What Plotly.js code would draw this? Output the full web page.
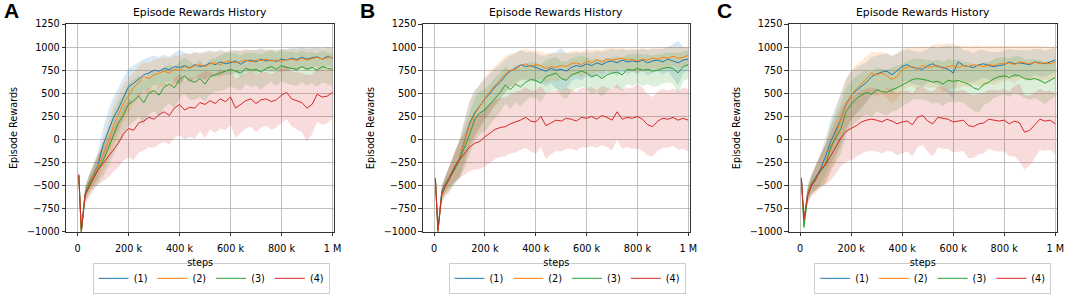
<!DOCTYPE html>
<html>
<head>
<meta charset="utf-8">
<script src="https://cdn.plot.ly/plotly-3.0.1.min.js"></script>
<style>
  body { margin: 0; background: #fff; }
  #myDiv { width: 1072px; height: 295px; }
</style>
</head>
<body>
<div id="myDiv"></div>
<script>
var steps = [5000, 15000, 30000, 45000, 60000, 80000, 100000, 120000, 140000, 160000, 180000, 200000, 220000,
  240000, 260000, 280000, 300000, 320000, 340000, 360000, 380000, 400000, 420000, 440000, 460000, 480000,
  500000, 520000, 540000, 560000, 580000, 600000, 620000, 640000, 660000, 680000, 700000, 720000, 740000,
  760000, 780000, 800000, 820000, 840000, 860000, 880000, 900000, 920000, 940000, 960000, 980000, 1000000];

var names = ['(1)', '(2)', '(3)', '(4)'];
var tickVals = [0, 200000, 400000, 600000, 800000, 1000000];
var tickText = ['0', '200 k', '400 k', '600 k', '800 k', '1 M'];
var yTickVals = [-1000, -750, -500, -250, 0, 250, 500, 750, 1000, 1250];
var yTickText = ['\u22121000', '\u2212750', '\u2212500', '\u2212250', '0', '250', '500', '750', '1000', '1250'];

// panel A
var meanA1 = [-380, -990, -580, -470, -390, -280, -60, 90, 230, 330, 450, 570, 610,
  660, 700, 720, 750, 740, 770, 755, 790, 780, 800, 775, 810, 790,
  800, 830, 810, 840, 820, 830, 850, 815, 850, 860, 840, 870, 850,
  860, 845, 870, 860, 880, 865, 890, 870, 885, 895, 870, 900, 880];
var meanA2 = [-400, -1000, -590, -480, -400, -300, -170, -30, 140, 270, 390, 470, 560,
  620, 680, 660, 700, 720, 740, 720, 760, 750, 790, 770, 800, 810,
  790, 820, 830, 810, 840, 850, 830, 845, 860, 840, 860, 855, 870,
  850, 860, 845, 865, 870, 855, 880, 860, 875, 890, 870, 885, 895];
var meanA3 = [-390, -1000, -600, -490, -420, -330, -230, -100, 50, 180, 260, 380, 420,
  470, 400, 500, 530, 480, 570, 600, 560, 650, 690, 640, 620, 660,
  600, 680, 700, 720, 740, 760, 740, 720, 770, 750, 760, 730, 770,
  790, 760, 800, 780, 770, 760, 790, 760, 780, 750, 790, 770, 760];
var meanA4 = [-380, -980, -600, -520, -430, -330, -260, -190, -110, -40, 60, 120, 100,
  180, 200, 240, 220, 270, 300, 260, 340, 380, 320, 350, 340, 400,
  380, 420, 390, 440, 410, 460, 340, 380, 420, 440, 390, 430, 440,
  410, 430, 480, 510, 440, 420, 400, 340, 380, 490, 460, 470, 510];
var sdA1 = [60, 30, 70, 90, 110, 140, 180, 210, 220, 220, 210, 200, 190,
  180, 170, 170, 160, 150, 150, 140, 150, 190, 140, 150, 140, 130,
  150, 140, 130, 140, 120, 130, 120, 140, 120, 110, 130, 120, 110,
  120, 120, 110, 120, 110, 130, 110, 120, 110, 100, 120, 100, 110];
var sdA2 = [60, 30, 70, 90, 110, 140, 180, 200, 210, 210, 200, 190, 170,
  170, 160, 170, 160, 160, 150, 160, 150, 150, 140, 150, 140, 140,
  150, 130, 130, 140, 120, 120, 130, 120, 120, 130, 110, 120, 110,
  120, 110, 120, 110, 110, 120, 110, 120, 110, 110, 110, 110, 100];
var sdA3 = [60, 30, 80, 100, 120, 150, 170, 200, 220, 230, 230, 230, 230,
  220, 240, 230, 220, 230, 220, 210, 220, 200, 190, 210, 190, 200,
  190, 190, 180, 190, 200, 180, 190, 190, 170, 180, 180, 190, 180,
  170, 180, 170, 170, 180, 180, 170, 180, 170, 180, 170, 170, 180];
var sdA4 = [60, 30, 80, 110, 130, 160, 190, 220, 240, 260, 290, 310, 320,
  320, 320, 320, 310, 320, 320, 310, 320, 330, 320, 320, 330, 310,
  360, 310, 320, 320, 310, 300, 320, 310, 300, 300, 310, 300, 290,
  300, 300, 300, 290, 300, 310, 320, 360, 320, 300, 300, 290, 280];

// panel B
var meanB1 = [-420, -980, -560, -470, -400, -300, -200, -10, 180, 290, 370, 440, 500,
  570, 620, 690, 740, 770, 810, 790, 800, 780, 760, 740, 770, 750,
  760, 740, 780, 800, 790, 820, 800, 830, 810, 840, 850, 830, 860,
  840, 850, 840, 860, 830, 850, 860, 840, 870, 850, 830, 860, 870];
var meanB2 = [-430, -1000, -580, -480, -410, -310, -210, -20, 160, 270, 360, 450, 520,
  590, 650, 710, 750, 760, 800, 820, 790, 810, 800, 770, 790, 780,
  800, 790, 820, 830, 810, 850, 830, 860, 840, 870, 860, 870, 880,
  860, 870, 850, 870, 860, 880, 870, 890, 880, 900, 880, 890, 910];
var meanB3 = [-430, -990, -590, -490, -420, -330, -220, -90, 60, 220, 290, 320, 380,
  450, 510, 590, 540, 600, 570, 620, 650, 640, 610, 680, 700, 720,
  660, 640, 700, 720, 740, 720, 680, 700, 660, 700, 720, 730, 700,
  760, 750, 770, 750, 760, 740, 750, 770, 780, 770, 720, 790, 810];
var meanB4 = [-420, -980, -600, -500, -430, -300, -220, -150, -80, -40, -20, 30, 70,
  110, 130, 140, 170, 190, 210, 240, 200, 190, 250, 150, 180, 210,
  200, 230, 220, 200, 240, 230, 250, 220, 260, 240, 210, 300, 220,
  240, 230, 250, 220, 160, 140, 200, 230, 220, 240, 210, 230, 210];
var sdB1 = [60, 30, 70, 90, 110, 150, 200, 230, 240, 240, 230, 220, 210,
  200, 190, 180, 170, 160, 160, 150, 150, 160, 150, 170, 160, 200,
  230, 190, 150, 140, 150, 130, 140, 130, 140, 120, 130, 140, 120,
  130, 120, 130, 120, 140, 130, 120, 140, 130, 180, 240, 140, 120];
var sdB2 = [60, 30, 70, 90, 110, 150, 200, 230, 250, 250, 240, 230, 220,
  210, 200, 190, 180, 180, 170, 160, 170, 160, 150, 160, 150, 150,
  140, 150, 140, 130, 140, 130, 140, 120, 130, 120, 130, 120, 110,
  120, 120, 130, 120, 120, 110, 120, 110, 120, 100, 110, 110, 100];
var sdB3 = [60, 30, 80, 100, 130, 160, 200, 220, 230, 230, 230, 230, 220,
  220, 210, 200, 210, 200, 210, 200, 190, 190, 200, 180, 180, 170,
  190, 200, 180, 170, 170, 170, 190, 180, 200, 180, 170, 170, 180,
  160, 170, 160, 170, 160, 170, 170, 160, 160, 170, 220, 160, 150];
var sdB4 = [60, 30, 80, 110, 140, 170, 200, 230, 260, 280, 300, 320, 320,
  320, 320, 320, 320, 330, 320, 330, 330, 340, 330, 360, 340, 330,
  330, 330, 320, 320, 320, 320, 320, 310, 320, 320, 330, 300, 320,
  320, 330, 350, 340, 330, 320, 320, 320, 310, 310, 320, 330, 340];

// panel C
var meanC1 = [-420, -880, -570, -470, -410, -320, -180, -20, 100, 220, 380, 480, 530,
  570, 620, 680, 710, 730, 740, 700, 740, 790, 810, 780, 770, 760,
  800, 820, 790, 780, 760, 720, 840, 800, 790, 780, 810, 820, 800,
  790, 800, 810, 840, 820, 830, 820, 810, 840, 830, 820, 840, 860];
var meanC2 = [-430, -900, -580, -480, -420, -330, -250, -110, 60, 230, 380, 480, 550,
  600, 660, 720, 700, 720, 690, 650, 680, 760, 780, 790, 760, 800,
  780, 790, 800, 770, 790, 800, 780, 800, 790, 810, 800, 790, 810,
  800, 820, 820, 830, 810, 840, 830, 820, 840, 820, 830, 820, 840];
var meanC3 = [-430, -950, -600, -490, -420, -350, -270, -80, 20, 120, 300, 380, 440,
  480, 510, 490, 540, 520, 510, 540, 560, 590, 620, 650, 660, 650,
  640, 620, 630, 600, 640, 630, 640, 620, 600, 560, 540, 600, 620,
  660, 680, 690, 670, 700, 690, 660, 650, 660, 640, 610, 640, 670];
var meanC4 = [-420, -860, -600, -500, -440, -330, -270, -180, -80, 20, 90, 120, 150,
  190, 210, 220, 210, 190, 220, 200, 170, 190, 200, 160, 240, 260,
  200, 170, 240, 230, 220, 190, 200, 210, 150, 140, 170, 180, 220,
  210, 200, 210, 170, 200, 180, 80, 100, 160, 220, 200, 210, 170];
var sdC1 = [60, 40, 80, 100, 130, 160, 200, 240, 260, 270, 270, 260, 250,
  240, 220, 210, 200, 190, 190, 200, 190, 170, 170, 180, 180, 190,
  180, 190, 200, 230, 260, 280, 180, 170, 170, 160, 160, 150, 150,
  160, 150, 150, 140, 150, 140, 150, 150, 140, 150, 140, 140, 130];
var sdC2 = [60, 40, 80, 100, 130, 170, 210, 250, 270, 280, 280, 270, 260,
  250, 240, 230, 240, 230, 240, 260, 250, 220, 220, 210, 230, 210,
  220, 230, 240, 260, 250, 240, 230, 220, 220, 210, 220, 220, 210,
  210, 200, 190, 190, 200, 180, 180, 190, 180, 190, 180, 180, 170];
var sdC3 = [60, 40, 80, 100, 130, 170, 210, 240, 260, 270, 260, 250, 250,
  240, 240, 240, 240, 240, 250, 240, 240, 230, 230, 220, 220, 220,
  220, 230, 230, 240, 230, 230, 230, 220, 240, 250, 250, 230, 220,
  210, 210, 200, 210, 200, 210, 210, 220, 210, 220, 230, 210, 200];
var sdC4 = [60, 40, 80, 110, 140, 180, 220, 260, 290, 310, 330, 340, 340,
  340, 340, 340, 340, 340, 340, 330, 340, 340, 330, 340, 320, 320,
  330, 350, 330, 330, 320, 330, 330, 330, 350, 340, 330, 330, 320,
  330, 330, 340, 350, 380, 420, 400, 380, 350, 330, 320, 320, 330];

var colors = ['#1f77b4', '#ff7f0e', '#2ca02c', '#d62728'];
var fills = ['rgba(31,119,180,0.17)', 'rgba(255,127,14,0.17)', 'rgba(44,160,44,0.17)', 'rgba(214,39,40,0.17)'];

var data = [];

function addPanel(n, means, sds) {
  var xa = n === 1 ? 'x' : 'x' + n;
  var ya = n === 1 ? 'y' : 'y' + n;
  var leg = n === 1 ? 'legend' : 'legend' + n;
  // bands first, then the mean lines on top
  for (var i = 0; i < 4; i++) {
    var lo = means[i].map(function (m, j) { return m - sds[i][j]; });
    var hi = means[i].map(function (m, j) { return m + sds[i][j]; });
    data.push({ x: steps, y: lo, xaxis: xa, yaxis: ya, type: 'scatter', mode: 'lines',
      line: { width: 0, color: fills[i] }, showlegend: false, hoverinfo: 'skip' });
    data.push({ x: steps, y: hi, xaxis: xa, yaxis: ya, type: 'scatter', mode: 'lines',
      fill: 'tonexty', fillcolor: fills[i], line: { width: 0, color: fills[i] },
      showlegend: false, hoverinfo: 'skip' });
  }
  for (var k = 0; k < 4; k++) {
    data.push({ x: steps, y: means[k], xaxis: xa, yaxis: ya, type: 'scatter', mode: 'lines',
      name: names[k], legend: leg, line: { color: colors[k], width: 1 } });
  }
}

addPanel(1, [meanA1, meanA2, meanA3, meanA4], [sdA1, sdA2, sdA3, sdA4]);
addPanel(2, [meanB1, meanB2, meanB3, meanB4], [sdB1, sdB2, sdB3, sdB4]);
addPanel(3, [meanC1, meanC2, meanC3, meanC4], [sdC1, sdC2, sdC3, sdC4]);

var fnt = 'DejaVu Sans, sans-serif';

function xAxis(domain, anchor) {
  return {
    domain: domain, anchor: anchor, range: [-45000, 1007000],
    tickvals: tickVals, ticktext: tickText,
    ticks: 'outside', ticklen: 3.5, tickwidth: 0.8, tickcolor: '#000', ticklabelstandoff: 4,
    showline: true, mirror: true, linecolor: '#000', linewidth: 0.8,
    showgrid: true, gridcolor: '#b0b0b0', gridwidth: 0.8, zeroline: false,
    tickfont: { size: 9.7, color: '#000' },
    title: { text: 'steps', font: { size: 9.7, color: '#000' }, standoff: 6 }
  };
}
function yAxis(anchor) {
  return {
    domain: [0.2136, 0.9186], anchor: anchor, range: [-1000, 1250],
    tickvals: yTickVals, ticktext: yTickText,
    ticks: 'outside', ticklen: 3.5, tickwidth: 0.8, tickcolor: '#000',
    showline: true, mirror: true, linecolor: '#000', linewidth: 0.8,
    showgrid: true, gridcolor: '#b0b0b0', gridwidth: 0.8, zeroline: false,
    tickfont: { size: 9.7, color: '#000' },
    title: { text: 'Episode Rewards', font: { size: 9.7, color: '#000' }, standoff: 7 }
  };
}
// legend kept fully inside the paper so it does not push the margins
function legendAt(x) {
  return { orientation: 'h', traceorder: 'normal',
    x: x, y: 0.004, xanchor: 'center', yanchor: 'bottom',
    bordercolor: '#cccccc', borderwidth: 1, bgcolor: '#fff',
    font: { size: 9.7, color: '#000' } };
}

var titleFont = { family: fnt, size: 10.8, color: '#000' };
var letterFont = { family: 'Liberation Sans, Arial, sans-serif', size: 21, color: '#000' };

function panelTitle(ref) {
  return { text: 'Episode Rewards History', xref: ref, yref: 'paper', x: 0.5, y: 0.959,
    xanchor: 'center', yanchor: 'middle', showarrow: false, font: titleFont };
}
function panelLetter(txt, x) {
  return { text: '<b>' + txt + '</b>', xref: 'paper', yref: 'paper', x: x, y: 0.963,
    xanchor: 'left', yanchor: 'middle', showarrow: false, font: letterFont };
}

var layout = {
  width: 1072, height: 295,
  margin: { l: 0, r: 0, t: 0, b: 0 },
  paper_bgcolor: '#fff', plot_bgcolor: '#fff',
  font: { family: fnt, color: '#000' },
  xaxis: xAxis([0.0616, 0.3118], 'y'),
  yaxis: yAxis('x'),
  xaxis2: xAxis([0.3943, 0.6437], 'y2'),
  yaxis2: yAxis('x2'),
  xaxis3: xAxis([0.7357, 0.9860], 'y3'),
  yaxis3: yAxis('x3'),
  legend: legendAt(0.197),
  legend2: legendAt(0.529),
  legend3: legendAt(0.870),
  annotations: [
    panelTitle('x domain'), panelTitle('x2 domain'), panelTitle('x3 domain'),
    panelLetter('A', 0.002), panelLetter('B', 0.334), panelLetter('C', 0.667)
  ]
};

Plotly.newPlot('myDiv', data, layout, { displayModeBar: false, staticPlot: true });
</script>
</body>
</html>
